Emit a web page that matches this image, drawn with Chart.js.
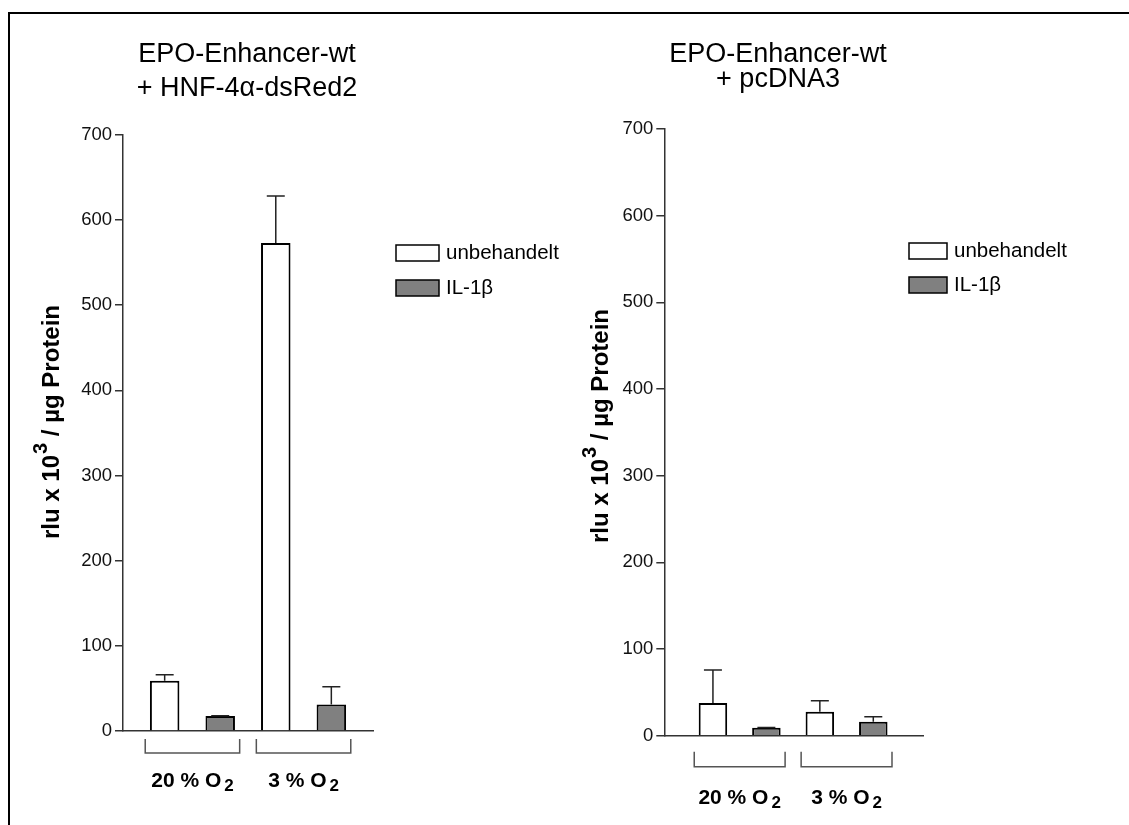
<!DOCTYPE html>
<html><head><meta charset="utf-8">
<script src="https://cdn.jsdelivr.net/npm/chart.js@4"></script>
<style>
html,body{margin:0;padding:0;background:#fff;}
body{width:1129px;height:825px;position:relative;overflow:hidden;}
#frame{position:absolute;left:8px;top:12px;width:1200px;height:900px;border-left:2px solid #000;border-top:2px solid #000;}
.c{position:absolute;top:0;}
</style></head>
<body>
<div id="frame"></div>
<div class="c" style="left:0;width:560px;height:825px"><canvas id="c1" width="560" height="825"></canvas></div>
<div class="c" style="left:560px;width:569px;height:825px"><canvas id="c2" width="569" height="825"></canvas></div>
<script>
// ---------- data ----------
const categories = ["20 % O₂", "3 % O₂"];
const seriesNames = ["unbehandelt", "IL-1β"];
const yTicks = [0, 100, 200, 300, 400, 500, 600, 700];
const yTitle = "rlu x 10³ / µg Protein";

const p1Title = ["EPO-Enhancer-wt", "+ HNF-4α-dsRed2"];
const p1Unbehandelt = [59, 573];
const p1UnbehandeltErr = [7, 55];
const p1IL1b = [17.6, 31];
const p1IL1bErr = [0.4, 21];

const p2Title = ["EPO-Enhancer-wt", "+ pcDNA3"];
const p2Unbehandelt = [37.7, 27.7];
const p2UnbehandeltErr = [38, 12.7];
const p2IL1b = [9.2, 16.1];
const p2IL1bErr = [0.3, 5.8];

// ---------- helpers ----------
const FAM = '"Liberation Sans", Arial, Helvetica, sans-serif';
const SUB = {'₀':'0','₁':'1','₂':'2','₃':'3','₄':'4','₅':'5','₆':'6','₇':'7','₈':'8','₉':'9'};
const SUP = {'⁰':'0','¹':'1','²':'2','³':'3','⁴':'4','⁵':'5','⁶':'6','⁷':'7','⁸':'8','⁹':'9'};
function segs(text){
  const out=[];
  for (const ch of text){
    const t = SUB[ch] ? 'sub' : (SUP[ch] ? 'sup' : 'n');
    const c = SUB[ch] || SUP[ch] || ch;
    if (out.length && out[out.length-1].t===t) out[out.length-1].s += c; else out.push({t, s:c});
  }
  return out;
}
function drawRich(ctx, text, x, y, size, bold, align, subScale, gap){
  const b = bold ? 'bold ' : '';
  const small = Math.round(size*(subScale||0.75));
  const parts = segs(text);
  let total = 0;
  parts.forEach(p=>{
    ctx.font = b + (p.t==='n'?size:small) + 'px ' + FAM;
    p.w = ctx.measureText(p.s).width + (p.t!=='n' ? (gap||1) : 0);
    total += p.w;
  });
  let cx = align==='center' ? x - total/2 : (align==='right' ? x-total : x);
  ctx.textAlign='left';
  parts.forEach(p=>{
    ctx.font = b + (p.t==='n'?size:small) + 'px ' + FAM;
    let dy = 0, dx = 0;
    if (p.t==='sub'){ dy = size*0.22; dx = (gap||1); }
    if (p.t==='sup'){ dy = -size*0.42; dx = (gap||1); }
    ctx.fillText(p.s, cx+dx, y+dy);
    cx += p.w;
  });
}

function makeChart(id, cfg){
  const datasets = [
    {label: seriesNames[0], data: cfg.u.map((v,i)=>({x:2*i+1, y:v})), err: cfg.uErr,
     backgroundColor:'#ffffff', borderColor:'#000000', borderWidth:2, maxBarThickness:cfg.barW, grouped:false},
    {label: seriesNames[1], data: cfg.il.map((v,i)=>({x:2*i+2, y:v})), err: cfg.ilErr,
     backgroundColor:'#808080', borderColor:'#000000', borderWidth:2, maxBarThickness:cfg.barW, grouped:false}
  ];
  const xPositions = [];
  categories.forEach((c,i)=>seriesNames.forEach((s,j)=>xPositions.push(2*i+j+1)));
  const deco = {
    id:'deco'+id,
    afterDatasetsDraw(chart){
      const ctx = chart.ctx, xs = chart.scales.x, ys = chart.scales.y, area = chart.chartArea;
      ctx.save();
      // error bars
      ctx.strokeStyle = '#222'; ctx.lineWidth = 1.5;
      chart.data.datasets.forEach(ds=>{
        ds.data.forEach((pt,i)=>{
          const e = ds.err[i]; if (!e) return;
          const px = xs.getPixelForValue(pt.x);
          const y0 = ys.getPixelForValue(pt.y), y1 = ys.getPixelForValue(pt.y+e);
          ctx.beginPath(); ctx.moveTo(px, y0); ctx.lineTo(px, y1);
          ctx.moveTo(px-9, y1); ctx.lineTo(px+9, y1); ctx.stroke();
        });
      });
      // brackets + category labels
      categories.forEach((cat,i)=>{
        const c = 2*i+1.5;
        const l = xs.getPixelForValue(c-0.85), r = xs.getPixelForValue(c+0.85);
        const t = area.bottom + cfg.brTop, b = area.bottom + cfg.brBot;
        ctx.strokeStyle = '#555'; ctx.lineWidth = 1.5;
        ctx.beginPath(); ctx.moveTo(l,t); ctx.lineTo(l,b); ctx.lineTo(r,b); ctx.lineTo(r,t); ctx.stroke();
        ctx.fillStyle = '#000'; ctx.textBaseline='alphabetic';
        drawRich(ctx, cat, xs.getPixelForValue(c), area.bottom + cfg.labY, 21, true, 'center', 0.8, 3);
      });
      // titles
      ctx.fillStyle = '#000'; ctx.textBaseline='alphabetic'; ctx.textAlign='center';
      ctx.font = '27px ' + FAM;
      cfg.title.forEach((line,k)=> ctx.fillText(line, cfg.titleX, cfg.titleY[k]));
      // legend
      chart.data.datasets.forEach((ds,k)=>{
        const bx = cfg.legX, by = cfg.legY[k];
        ctx.fillStyle = ds.backgroundColor; ctx.fillRect(bx, by, cfg.legW, 16);
        ctx.strokeStyle = '#000'; ctx.lineWidth = 1.5; ctx.strokeRect(bx, by, cfg.legW, 16);
        ctx.fillStyle = '#000'; ctx.textBaseline='middle'; ctx.textAlign='left';
        ctx.font = '20.5px ' + FAM;
        ctx.fillText(ds.label, bx + cfg.legW + 7, by + 8);
      });
      // y title
      ctx.save();
      ctx.translate(cfg.ytX, cfg.ytY); ctx.rotate(-Math.PI/2);
      ctx.fillStyle='#000'; ctx.textBaseline='middle';
      drawRich(ctx, yTitle, 0, 0, 24, true, 'center', 0.85, 1);
      ctx.restore();
      ctx.restore();
    }
  };
  return new Chart(document.getElementById(id), {
    type:'bar',
    data:{datasets},
    options:{
      responsive:false, animation:false,
      layout:{padding:{top:cfg.top, left:0, right:cfg.padR, bottom:0}},
      plugins:{legend:{display:false}, title:{display:false}, tooltip:{enabled:false}},
      scales:{
        x:{type:'linear', min:cfg.xMin, max:cfg.xMax, offset:false, bounds:'data',
           grid:{display:false, offset:false}, ticks:{display:false},
           afterBuildTicks:s=>{s.ticks = xPositions.map(v=>({value:v}));},
           border:{display:true, color:'#333', width:1.5},
           afterFit:s=>{s.height = cfg.xH;}},
        y:{min:0, max:700,
           afterBuildTicks:s=>{s.ticks = yTicks.map(v=>({value:v}));},
           ticks:{color:'#111', font:{size:18.5, family:FAM}, padding:3},
           grid:{display:true, drawOnChartArea:false, drawTicks:true, tickLength:8, color:'#333', lineWidth:1.5},
           border:{display:true, color:'#333', width:1.5},
           afterFit:s=>{s.width = cfg.yW;}}
      }
    },
    plugins:[deco]
  });
}

makeChart('c1', {
  u:p1Unbehandelt, uErr:p1UnbehandeltErr, il:p1IL1b, ilErr:p1IL1bErr, title:p1Title,
  barW:29.5, top:134.7, padR:187, xH:94, yW:123, xMin:0.25, xMax:4.75,
  brTop:8, brBot:22, labY:55.7, titleX:247, titleY:[61.7, 96],
  legX:396, legY:[245, 280], legW:43, ytX:52, ytY:422
});
makeChart('c2', {
  u:p2Unbehandelt, uErr:p2UnbehandeltErr, il:p2IL1b, ilErr:p2IL1bErr, title:p2Title,
  barW:28.5, top:129, padR:206, xH:89.3, yW:104.3, xMin:0.09, xMax:4.93,
  brTop:16, brBot:31, labY:68, titleX:218, titleY:[61.7, 86.7],
  legX:349, legY:[243, 277], legW:38, ytX:41, ytY:426
});
</script>
</body></html>
